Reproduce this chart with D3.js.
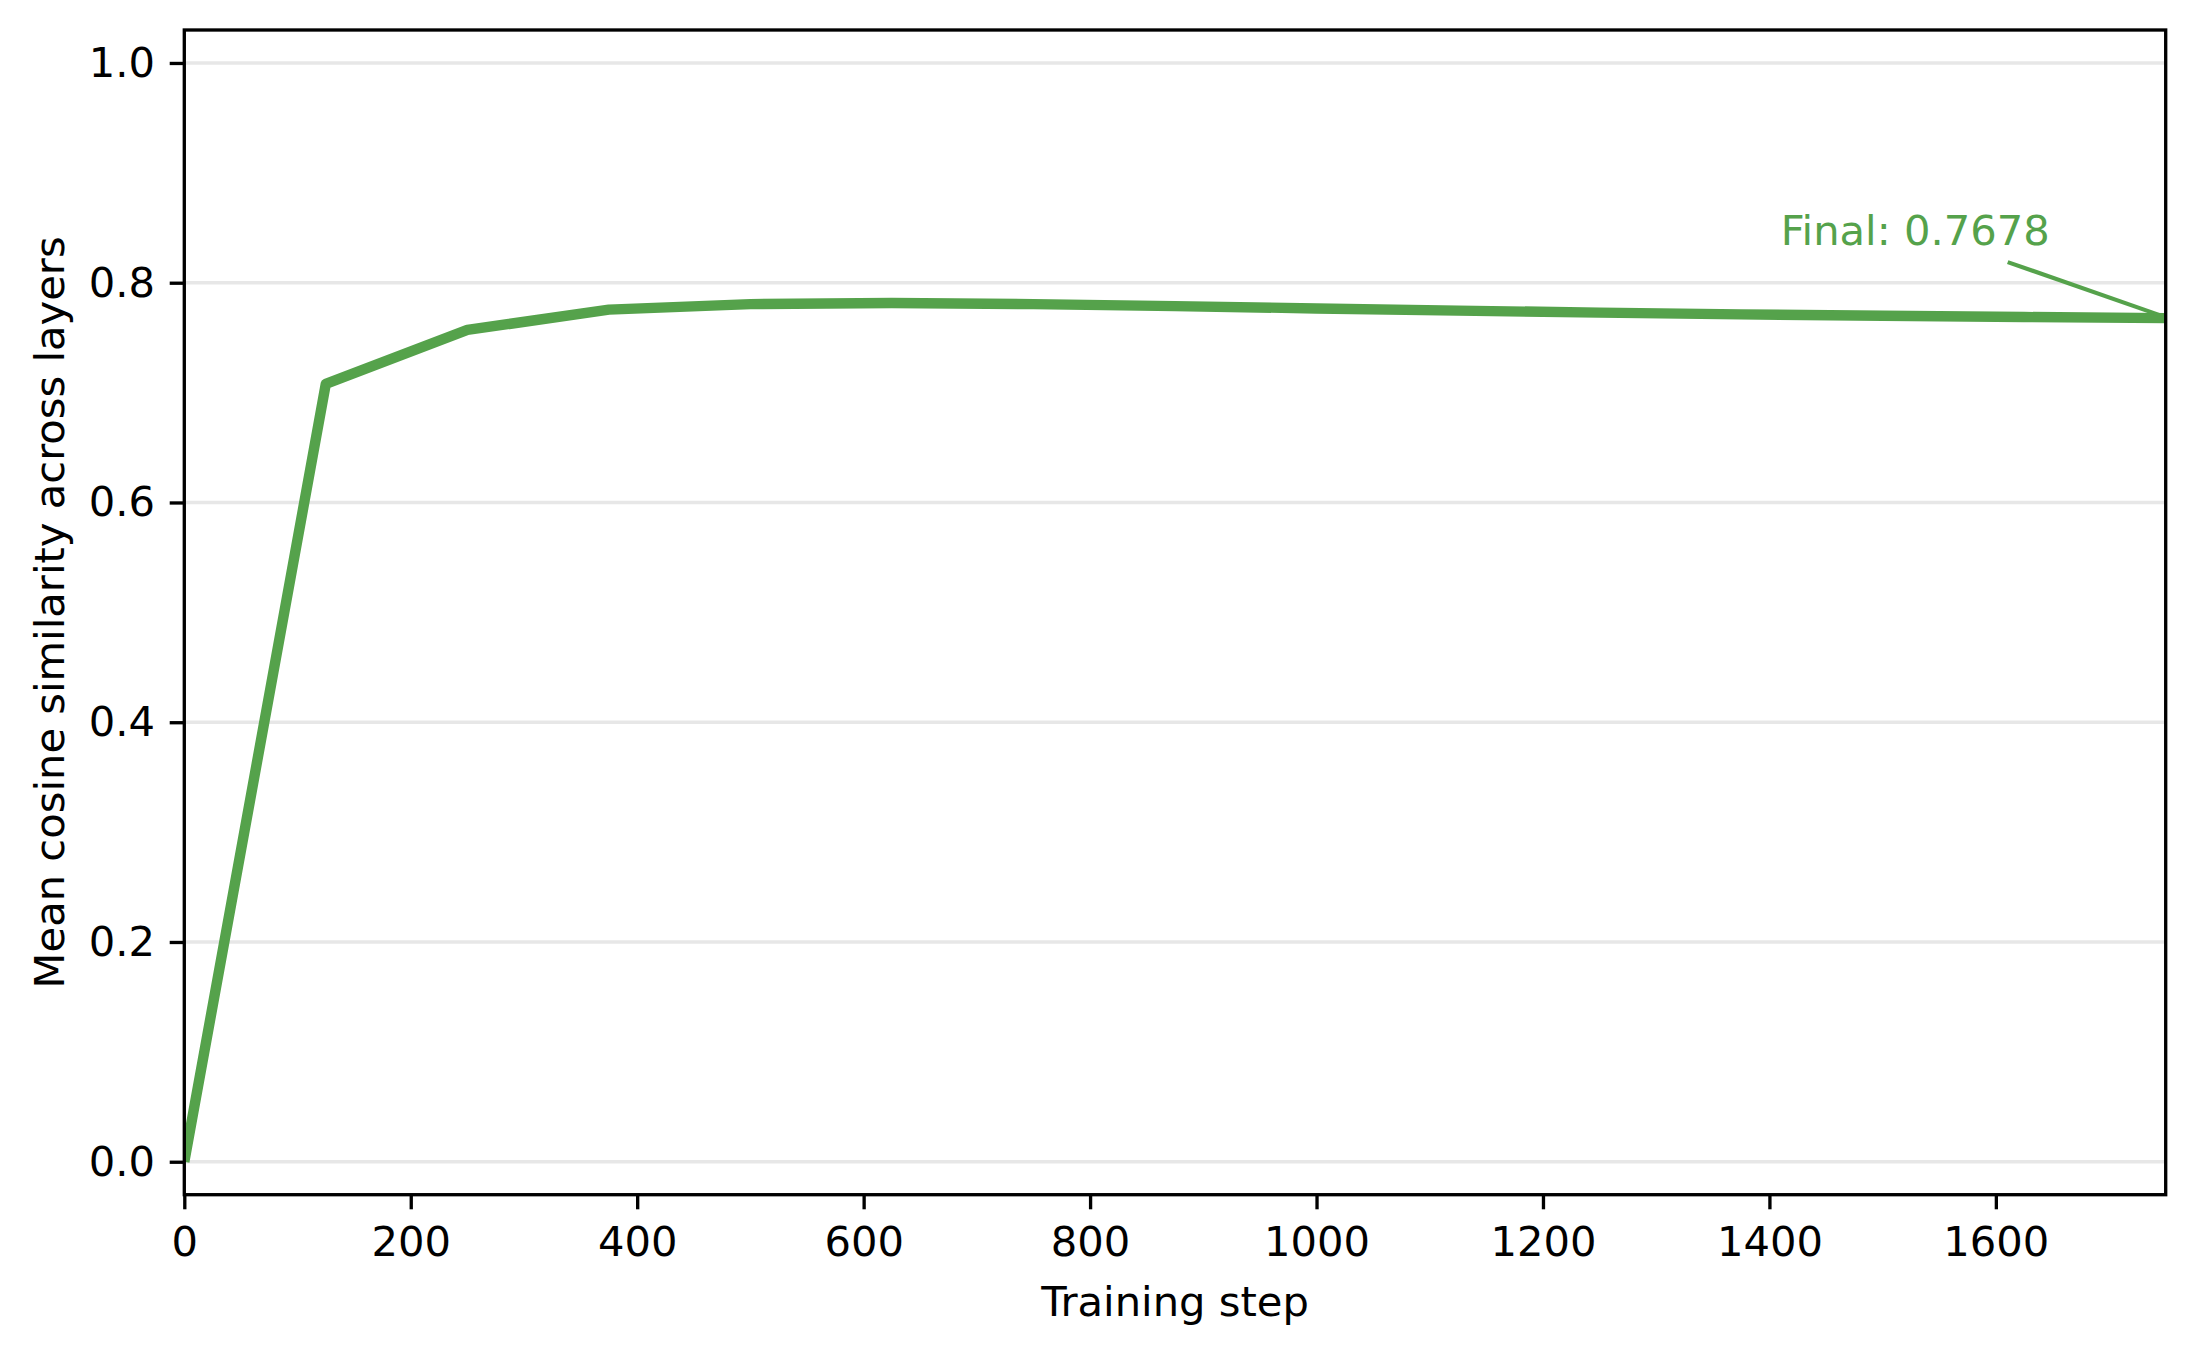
<!DOCTYPE html>
<html>
<head>
<meta charset="utf-8">
<script src="https://cdn.jsdelivr.net/npm/d3@7"></script>
<style>
  body { margin: 0; background: #fff; }
  svg { display: block; font-family: "DejaVu Sans", sans-serif; }
</style>
</head>
<body>
<svg id="chart" width="2194" height="1354"></svg>
<script>
// Data
const steps = [0, 125, 250, 375, 500, 625, 750, 875, 1000, 1125, 1250, 1375, 1500, 1625, 1750];
const similarity = [0.0, 0.708, 0.757, 0.7755, 0.7805, 0.7815, 0.7805, 0.7787, 0.7766, 0.7746, 0.7728, 0.7712, 0.7699, 0.7688, 0.7678];
const xTicks = [0, 200, 400, 600, 800, 1000, 1200, 1400, 1600];
const yTicks = [0.0, 0.2, 0.4, 0.6, 0.8, 1.0];
const xLabel = "Training step";
const yLabel = "Mean cosine similarity across layers";
const finalLabel = "Final: 0.7678";

const green = "#55a24b";
const fontSize = 41.67;

const svg = d3.select("#chart");

// Plot area
const margin = { left: 184.3, right: 2165.7, top: 30, bottom: 1194.7 };

const x = d3.scaleLinear().domain([0, 1750]).range([margin.left, margin.right]);
const y = d3.scaleLinear().domain([-0.03, 1.03]).range([margin.bottom, margin.top]);

// Horizontal grid lines
svg.append("g")
  .selectAll("line")
  .data(yTicks)
  .enter()
  .append("line")
  .attr("x1", margin.left)
  .attr("x2", margin.right)
  .attr("y1", (d) => y(d))
  .attr("y2", (d) => y(d))
  .attr("stroke", "#b0b0b0")
  .attr("stroke-opacity", 0.3)
  .attr("stroke-width", 3.33);

// The curve
const line = d3.line()
  .x((d, i) => x(steps[i]))
  .y((d) => y(d));

svg.append("g")
  .attr("clip-path", "url(#clip)")
  .append("path")
  .datum(similarity)
  .attr("d", line)
  .attr("fill", "none")
  .attr("stroke", green)
  .attr("stroke-width", 10.4)
  .attr("stroke-linejoin", "round")
  .attr("stroke-linecap", "butt");

svg.append("clipPath")
  .attr("id", "clip")
  .append("rect")
  .attr("x", margin.left)
  .attr("y", margin.top)
  .attr("width", margin.right - margin.left)
  .attr("height", margin.bottom - margin.top);

// Annotation for the last point
const lastX = x(steps[steps.length - 1]);
const lastY = y(similarity[similarity.length - 1]);

svg.append("line")
  .attr("x1", lastX - 158)
  .attr("y1", lastY - 56)
  .attr("x2", lastX - 6)
  .attr("y2", lastY - 3)
  .attr("stroke", green)
  .attr("stroke-width", 4.17);

svg.append("text")
  .attr("x", lastX - 116)
  .attr("y", lastY - 73)
  .attr("text-anchor", "end")
  .attr("fill", green)
  .style("font-size", fontSize + "px")
  .text(finalLabel);

// Axes
const xAxis = d3.axisBottom(x)
  .tickValues(xTicks)
  .tickFormat(d3.format("d"))
  .tickSize(14.6)
  .tickPadding(14.6);

const yAxis = d3.axisLeft(y)
  .tickValues(yTicks)
  .tickFormat(d3.format(".1f"))
  .tickSize(14.6)
  .tickPadding(14.6);

const gx = svg.append("g")
  .attr("transform", `translate(0,${margin.bottom})`)
  .call(xAxis);

const gy = svg.append("g")
  .attr("transform", `translate(${margin.left},0)`)
  .call(yAxis);

[gx, gy].forEach((g) => {
  g.select(".domain").remove();
  g.selectAll(".tick line").attr("stroke", "#000").attr("stroke-width", 3.33);
  g.selectAll(".tick text")
    .attr("fill", "#000")
    .style("font-size", fontSize + "px")
    .style("font-family", "DejaVu Sans");
});
gx.selectAll(".tick text").attr("dy", "0.76em");

// Frame around the plot
svg.append("rect")
  .attr("x", margin.left)
  .attr("y", margin.top)
  .attr("width", margin.right - margin.left)
  .attr("height", margin.bottom - margin.top)
  .attr("fill", "none")
  .attr("stroke", "#000")
  .attr("stroke-width", 3.33);

// Axis labels
svg.append("text")
  .attr("x", (margin.left + margin.right) / 2)
  .attr("y", 1316)
  .attr("text-anchor", "middle")
  .attr("fill", "#000")
  .style("font-size", fontSize + "px")
  .text(xLabel);

svg.append("text")
  .attr("transform", `translate(64,${(margin.top + margin.bottom) / 2}) rotate(-90)`)
  .attr("text-anchor", "middle")
  .attr("fill", "#000")
  .style("font-size", fontSize + "px")
  .text(yLabel);
</script>
</body>
</html>
